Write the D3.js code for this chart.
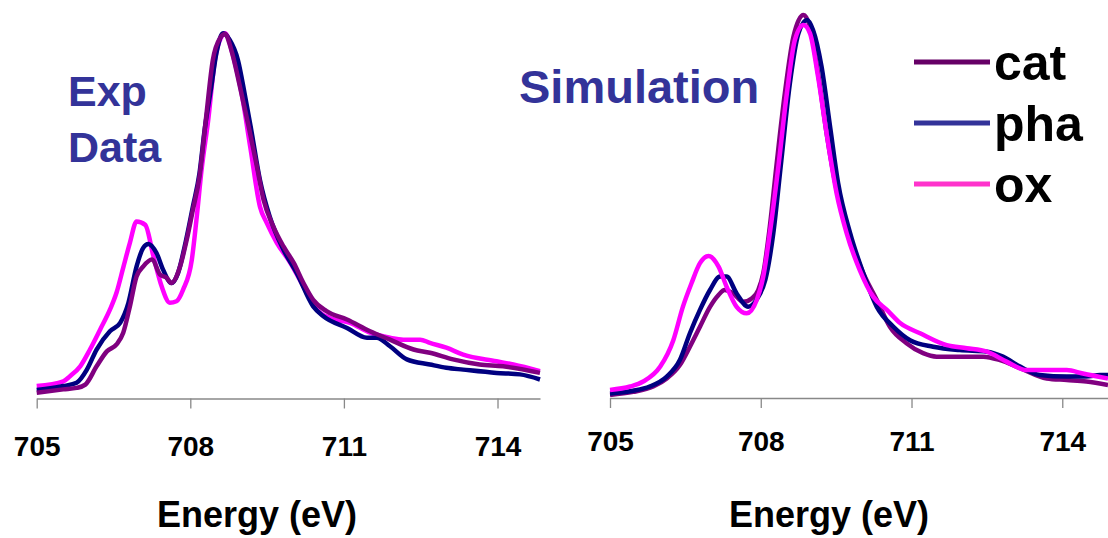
<!DOCTYPE html>
<html>
<head>
<meta charset="utf-8">
<script src="https://cdn.jsdelivr.net/npm/d3@7"></script>
<style>
  html, body { margin: 0; padding: 0; background: #fff; }
  svg { display: block; font-family: "Liberation Sans", Arial, sans-serif; }
</style>
</head>
<body>
<svg id="chart" width="1108" height="538"></svg>
<script>
// ---------- DATA ----------
const tickValues = [705, 708, 711, 714];
const xTitle = "Energy (eV)";
const seriesNames = ["cat", "pha", "ox"];

// Experimental panel (normalized intensity)
const expCatE = [705.00,705.52,705.78,705.95,706.17,706.37,706.56,706.69,706.82,706.95,707.08,707.25,707.41,707.54,707.63,707.80,707.93,708.05,708.18,708.31,708.44,708.58,708.68,708.80,708.97,709.14,709.30,709.43,709.62,709.82,710.02,710.21,710.40,710.66,711.06,711.51,711.90,712.36,712.68,713.13,713.65,714.11,714.83];
const expCatI = [0.016,0.025,0.029,0.038,0.088,0.129,0.148,0.180,0.252,0.334,0.361,0.380,0.339,0.330,0.316,0.361,0.434,0.516,0.607,0.771,0.926,0.986,0.997,0.954,0.853,0.744,0.635,0.544,0.471,0.416,0.371,0.316,0.270,0.239,0.216,0.184,0.161,0.134,0.125,0.107,0.093,0.088,0.070];

const expPhaE = [705.00,705.52,705.78,705.98,706.17,706.43,706.63,706.79,706.95,707.08,707.18,707.34,707.47,707.63,707.76,707.89,708.05,708.18,708.28,708.41,708.51,708.64,708.77,708.93,709.06,709.19,709.36,709.55,709.82,710.08,710.40,710.60,711.06,711.45,711.64,711.90,712.23,712.68,713.00,713.33,713.98,714.44,714.83];
const expPhaI = [0.023,0.034,0.043,0.079,0.134,0.184,0.207,0.261,0.361,0.412,0.423,0.398,0.352,0.316,0.343,0.416,0.525,0.617,0.735,0.853,0.945,0.999,0.981,0.926,0.835,0.735,0.598,0.498,0.407,0.343,0.252,0.225,0.193,0.166,0.166,0.143,0.107,0.093,0.084,0.079,0.070,0.066,0.052];

const expOxE = [705.00,705.52,705.65,705.85,706.04,706.24,706.43,706.56,706.69,706.82,706.95,707.12,707.28,707.44,707.60,707.73,707.86,708.03,708.12,708.22,708.35,708.48,708.61,708.68,708.84,709.00,709.17,709.36,709.49,709.69,709.95,710.21,710.47,710.73,711.12,711.51,711.90,712.16,712.49,712.68,713.00,713.33,713.98,714.31,714.83];
const expOxI = [0.034,0.047,0.061,0.088,0.134,0.189,0.243,0.290,0.358,0.426,0.484,0.475,0.389,0.307,0.262,0.266,0.298,0.380,0.489,0.626,0.762,0.926,0.990,0.999,0.935,0.836,0.689,0.525,0.481,0.426,0.372,0.307,0.243,0.220,0.207,0.180,0.166,0.161,0.161,0.152,0.139,0.120,0.102,0.093,0.075];

// Simulation panel (normalized intensity)
const simCatE = [705.00,705.46,705.86,706.13,706.39,706.59,706.79,706.99,707.16,707.28,707.45,707.65,707.82,707.95,708.05,708.18,708.31,708.48,708.65,708.85,708.98,709.14,709.31,709.51,709.75,710.04,710.31,710.57,710.90,711.23,711.50,712.43,712.76,713.16,713.69,714.09,714.48,714.91];
const simCatI = [0.008,0.016,0.030,0.051,0.086,0.134,0.186,0.238,0.269,0.282,0.273,0.251,0.260,0.282,0.326,0.447,0.604,0.796,0.943,1.000,0.969,0.848,0.691,0.543,0.430,0.326,0.256,0.186,0.143,0.117,0.108,0.108,0.099,0.078,0.051,0.047,0.043,0.034];

const simPhaE = [705.00,705.46,705.79,706.13,706.39,706.59,706.79,706.99,707.19,707.32,707.52,707.75,707.95,708.09,708.25,708.41,708.58,708.75,708.92,709.04,709.21,709.38,709.54,709.78,710.04,710.31,710.64,710.97,711.43,711.96,712.50,712.82,713.16,713.55,714.09,714.48,714.75,714.91];
const simPhaI = [0.012,0.019,0.030,0.056,0.099,0.169,0.230,0.282,0.317,0.317,0.273,0.238,0.264,0.308,0.430,0.621,0.822,0.952,0.987,0.961,0.865,0.708,0.561,0.430,0.326,0.238,0.186,0.151,0.134,0.125,0.121,0.108,0.082,0.060,0.056,0.056,0.060,0.060];

const simOxE = [705.00,705.40,705.66,706.00,706.26,706.45,706.62,706.79,706.96,707.16,707.32,707.52,707.72,707.92,708.05,708.18,708.35,708.52,708.68,708.85,708.98,709.14,709.31,709.51,709.71,709.97,710.24,710.51,710.78,711.17,711.70,712.10,712.50,712.89,713.29,713.75,714.09,714.41,714.91];
const simOxI = [0.021,0.030,0.043,0.082,0.151,0.238,0.299,0.352,0.371,0.343,0.291,0.238,0.221,0.256,0.317,0.430,0.604,0.796,0.935,0.974,0.952,0.839,0.691,0.534,0.430,0.334,0.264,0.230,0.195,0.169,0.138,0.130,0.121,0.095,0.073,0.073,0.073,0.064,0.051];

// ---------- DRAW ----------
const svg = d3.select("#chart");
const font = '"Liberation Sans", Arial, sans-serif';

const plotColors = { cat: "#800080", pha: "#000080", ox: "#ff00ff" };
const legendColors = { cat: "#660066", pha: "#333399", ox: "#ff33cc" };

function zip(E, I) { return E.map((e, i) => ({ e: e, v: I[i] })); }

const panels = [
  {
    xDomain: [705, 714.83], xRange: [36.7, 540], yRange: [398.5, 33],
    series: { cat: zip(expCatE, expCatI), pha: zip(expPhaE, expPhaI), ox: zip(expOxE, expOxI) },
    order: ["ox", "pha", "cat"],
    labelY: 57, titleX: 257
  },
  {
    xDomain: [705, 714.91], xRange: [610, 1108], yRange: [398, 15],
    series: { cat: zip(simCatE, simCatI), pha: zip(simPhaE, simPhaI), ox: zip(simOxE, simOxI) },
    order: ["cat", "pha", "ox"],
    labelY: 53, titleX: 829
  }
];

panels.forEach(p => {
  const x = d3.scaleLinear().domain(p.xDomain).range(p.xRange);
  const y = d3.scaleLinear().domain([0, 1]).range(p.yRange);
  const axisY = p.yRange[0];

  const g = svg.append("g");
  const ax = g.append("g")
    .attr("transform", `translate(0,${axisY})`)
    .call(d3.axisBottom(x).tickValues(tickValues).tickSize(10).tickSizeOuter(0).tickFormat(d3.format("d")));
  ax.select(".domain").attr("stroke", "#888").attr("stroke-width", 1.3);
  ax.selectAll(".tick line").attr("stroke", "#888").attr("stroke-width", 1.3);
  ax.selectAll(".tick text")
    .attr("y", p.labelY).attr("dy", 0)
    .attr("fill", "#000")
    .style("font-family", font).style("font-size", "28px").style("font-weight", "bold");

  const line = d3.line().curve(d3.curveMonotoneX).x(d => x(d.e)).y(d => y(d.v));
  p.order.forEach(name => {
    g.append("path")
      .datum(p.series[name])
      .attr("d", line)
      .attr("fill", "none")
      .attr("stroke", plotColors[name])
      .attr("stroke-width", 4.5)
      .attr("stroke-linejoin", "round");
  });

  g.append("text")
    .attr("x", p.titleX).attr("y", 527)
    .attr("text-anchor", "middle")
    .style("font-family", font).style("font-size", "36px").style("font-weight", "bold")
    .text(xTitle);
});

// Panel titles
svg.append("text").attr("x", 68).attr("y", 106)
  .attr("fill", "#333399").style("font-size", "43px").style("font-weight", "bold").text("Exp");
svg.append("text").attr("x", 68).attr("y", 162)
  .attr("fill", "#333399").style("font-size", "43px").style("font-weight", "bold").text("Data");
svg.append("text").attr("x", 519).attr("y", 103)
  .attr("fill", "#333399").style("font-size", "47px").style("font-weight", "bold").text("Simulation");

// Legend
const legendY = [62, 123, 184];
seriesNames.forEach((name, i) => {
  svg.append("line")
    .attr("x1", 914).attr("x2", 990)
    .attr("y1", legendY[i]).attr("y2", legendY[i])
    .attr("stroke", legendColors[name]).attr("stroke-width", 5);
  svg.append("text")
    .attr("x", 994).attr("y", legendY[i] + 18)
    .style("font-size", "50px").style("font-weight", "bold").attr("fill", "#000")
    .text(name);
});
</script>
</body>
</html>
